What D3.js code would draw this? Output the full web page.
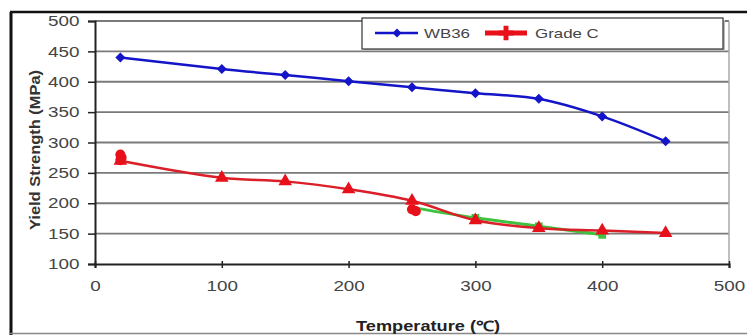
<!DOCTYPE html>
<html>
<head>
<meta charset="utf-8">
<script src="https://cdn.jsdelivr.net/npm/d3@7"></script>
<style>
  body { margin: 0; background: #fff; }
  svg { display: block; font-family: Arial, "Liberation Sans", sans-serif; }
</style>
</head>
<body>
<svg id="chart" width="747" height="335"></svg>
<script>
// 数据：温度与屈服强度
const temps = [20, 100, 150, 200, 250, 300, 350, 400, 450];
const wb36 = [440, 421, 411, 401, 391, 381, 372, 343, 302];
const gradeC = [270, 242, 236, 223, 204, 172, 159, 155, 151];
const greenTemps = [253, 300, 350, 400];
const greenVals = [192, 176, 162, 148];
const extraRed = [[20, 280], [21, 275], [20, 271], [250, 190], [253, 187]];
const xTicks = [0, 100, 200, 300, 400, 500];
const yTicks = [100, 150, 200, 250, 300, 350, 400, 450, 500];
const legendNames = ["WB36", "Grade C"];

const svg = d3.select("#chart");
const stretch = 1.3; // 原图文字横向拉伸

const x = d3.scaleLinear().domain([0, 500]).range([95, 729]);
const y = d3.scaleLinear().domain([100, 500]).range([264, 21]);

// 外框
svg.append("line").attr("x1", 10).attr("x2", 747).attr("y1", 12).attr("y2", 12)
  .attr("stroke", "#111").attr("stroke-width", 2.5);
svg.append("line").attr("x1", 11).attr("x2", 11).attr("y1", 12).attr("y2", 335)
  .attr("stroke", "#111").attr("stroke-width", 3);
svg.append("line").attr("x1", 10).attr("x2", 747).attr("y1", 333.5).attr("y2", 333.5)
  .attr("stroke", "#888").attr("stroke-width", 1.5);

// 网格线
svg.append("g").selectAll("line").data(yTicks.slice(1)).join("line")
  .attr("x1", x(0)).attr("x2", x(500))
  .attr("y1", d => y(d)).attr("y2", d => y(d))
  .attr("stroke", "#7a7a7a").attr("stroke-width", 1.8);

// 右边框
svg.append("line").attr("x1", x(500)).attr("x2", x(500)).attr("y1", y(500)).attr("y2", y(100))
  .attr("stroke", "#aaa").attr("stroke-width", 1.5);

// 坐标轴
const gx = svg.append("g").attr("transform", `translate(0,${y(100)})`)
  .call(d3.axisBottom(x).tickValues(xTicks).tickSize(4).tickPadding(13));
gx.select(".domain").attr("stroke", "#222").attr("stroke-width", 2);
gx.selectAll(".tick line").attr("stroke", "#222").attr("stroke-width", 1.5).attr("y1", -3);
gx.selectAll("text").attr("font-size", 14.5).attr("fill", "#444")
  .attr("transform", `scale(${stretch},1)`);

const gy = svg.append("g").attr("transform", `translate(${x(0)},0)`)
  .call(d3.axisLeft(y).tickValues(yTicks).tickSize(7).tickPadding(5));
gy.select(".domain").attr("stroke", "#222").attr("stroke-width", 2);
gy.selectAll(".tick line").attr("stroke", "#222").attr("stroke-width", 1.5);
gy.selectAll("text").attr("font-size", 14.5).attr("fill", "#444")
  .attr("transform", `scale(${stretch},1)`);

// 坐标轴标题
svg.append("text")
  .attr("transform", "translate(40,150) rotate(-90)")
  .attr("text-anchor", "middle")
  .attr("font-size", 15).attr("font-weight", "bold").attr("fill", "#333")
  .attr("textLength", 160).attr("lengthAdjust", "spacingAndGlyphs")
  .text("Yield Strength (MPa)");
svg.append("text")
  .attr("transform", `translate(428,331) scale(${stretch},1)`)
  .attr("text-anchor", "middle")
  .attr("font-size", 14).attr("font-weight", "bold").attr("fill", "#222")
  .text("Temperature (\u2103)");

const line = d3.line()
  .x(d => x(d[0])).y(d => y(d[1]))
  .curve(d3.curveCatmullRom.alpha(0.5));

const wbData = temps.map((t, i) => [t, wb36[i]]);
const gcData = temps.map((t, i) => [t, gradeC[i]]);
const greenData = greenTemps.map((t, i) => [t, greenVals[i]]);

// 绿色系列
svg.append("path").datum(greenData).attr("d", line)
  .attr("fill", "none").attr("stroke", "#3fc23f").attr("stroke-width", 3);
svg.append("g").selectAll("path").data(greenData.slice(1)).join("path")
  .attr("transform", d => `translate(${x(d[0])},${y(d[1])})`)
  .attr("d", d3.symbol(d3.symbolSquare, 60))
  .attr("fill", "#3fc23f");

// WB36
svg.append("path").datum(wbData).attr("d", line)
  .attr("fill", "none").attr("stroke", "#1414c8").attr("stroke-width", 2.5);
svg.append("g").selectAll("path").data(wbData).join("path")
  .attr("transform", d => `translate(${x(d[0])},${y(d[1])}) rotate(45)`)
  .attr("d", d3.symbol(d3.symbolSquare, 50))
  .attr("fill", "#1414c8");

// Grade C
svg.append("path").datum(gcData).attr("d", line)
  .attr("fill", "none").attr("stroke", "#dc1e28").attr("stroke-width", 2.5);
svg.append("g").selectAll("path").data(gcData).join("path")
  .attr("transform", d => `translate(${x(d[0])},${y(d[1])})`)
  .attr("d", d3.symbol(d3.symbolTriangle, 80))
  .attr("fill", "#e8101a");
svg.append("g").selectAll("path").data(extraRed).join("path")
  .attr("transform", d => `translate(${x(d[0])},${y(d[1])})`)
  .attr("d", d3.symbol(d3.symbolCircle, 80))
  .attr("fill", "#e8101a");

// 图例
const lg = svg.append("g");
lg.append("rect").attr("x", 364).attr("y", 20).attr("width", 361).attr("height", 31)
  .attr("fill", "#bbb");
lg.append("rect").attr("x", 362).attr("y", 18).attr("width", 361).attr("height", 31)
  .attr("fill", "#fff").attr("stroke", "#333").attr("stroke-width", 1.2);
lg.append("line").attr("x1", 375).attr("x2", 418).attr("y1", 33).attr("y2", 33)
  .attr("stroke", "#1414c8").attr("stroke-width", 2.5);
lg.append("path").attr("transform", "translate(397,33) rotate(45)")
  .attr("d", d3.symbol(d3.symbolSquare, 40)).attr("fill", "#1414c8");
lg.append("line").attr("x1", 485).attr("x2", 527).attr("y1", 33).attr("y2", 33)
  .attr("stroke", "#e8101a").attr("stroke-width", 5);
lg.append("path").attr("transform", "translate(506,33)")
  .attr("d", d3.symbol(d3.symbolCross, 120)).attr("fill", "#e8101a");
[[424, legendNames[0]], [535, legendNames[1]]].forEach(([lx, name]) => {
  lg.append("text")
    .attr("transform", `translate(${lx},38) scale(${stretch},1)`)
    .attr("font-size", 13).attr("fill", "#444")
    .text(name);
});
</script>
</body>
</html>
